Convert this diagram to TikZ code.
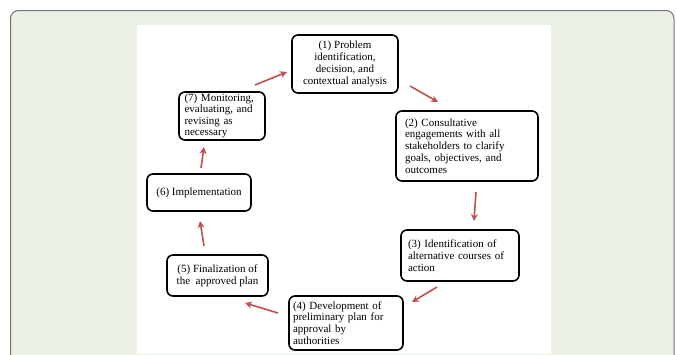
\documentclass[tikz,border=0pt]{standalone}
\usepackage{fontspec}
\setmainfont{Liberation Serif}
\usetikzlibrary{arrows.meta}
\definecolor{bgg}{HTML}{EBF1E6}
\definecolor{arr}{HTML}{C0504D}
\tikzset{
  stage/.style={draw=black, line width=1.6pt, rounded corners=6pt, fill=white, inner sep=0pt, font=\fontsize{11}{11.8}\selectfont},
  flow/.style={draw=arr, line width=1.6pt, -{Stealth[length=7pt,width=7pt]}}
}
\begin{document}
\begin{tikzpicture}[x=1pt,y=-1pt]
\useasboundingbox (0,0) rectangle (677,354);
\begin{scope}
\clip (0,0) rectangle (677,354);
\draw[fill=bgg, draw=gray!90!black, line width=1pt, rounded corners=8pt] (10.5,10.5) rectangle (674,380);
\end{scope}
\fill[white] (137,25) rectangle (551,354);
\node[stage, minimum width=106pt, minimum height=58pt, align=center] (n1) at (345,64) {(1) Problem\\identification,\\decision, and\\contextual analysis};
\node[stage, minimum width=142pt, minimum height=70pt, align=left, text width=124pt] (n2) at (467,146) {(2) Consultative\\engagements with all\\stakeholders to clarify\\goals, objectives, and\\outcomes};
\node[stage, minimum width=118pt, minimum height=51pt, align=left, text width=104pt] (n3) at (460,255.5) {(3) Identification of\\alternative courses of\\action};
\node[stage, minimum width=114pt, minimum height=54pt, align=left, text width=106pt] (n4) at (346,323) {(4) Development of\\preliminary plan for\\approval by\\authorities};
\node[stage, minimum width=101pt, minimum height=41pt, align=center] (n5) at (217.5,275.5) {(5) Finalization of\\the~ approved plan};
\node[stage, minimum width=104pt, minimum height=37pt, align=center] (n6) at (199,192.5) {(6) Implementation};
\node[stage, font=\fontsize{11}{11.3}\selectfont, minimum width=86pt, minimum height=48pt, align=left, text width=75pt] (n7) at (222,116) {(7) Monitoring,\\evaluating, and\\revising as\\necessary};
\coordinate (a1s) at (255,85); \coordinate (a1e) at (287,72);
\coordinate (a2s) at (410,86); \coordinate (a2e) at (438,102);
\coordinate (a3s) at (476,192); \coordinate (a3e) at (474,221);
\coordinate (a4s) at (437,287); \coordinate (a4e) at (412,302);
\coordinate (a5s) at (278,313); \coordinate (a5e) at (245,303);
\coordinate (a6s) at (204,246); \coordinate (a6e) at (200,221);
\coordinate (a7s) at (201,168); \coordinate (a7e) at (204,147);
\draw[flow] (a1s) -- (a1e);
\draw[flow] (a2s) -- (a2e);
\draw[flow] (a3s) -- (a3e);
\draw[flow] (a4s) -- (a4e);
\draw[flow] (a5s) -- (a5e);
\draw[flow] (a6s) -- (a6e);
\draw[flow] (a7s) -- (a7e);
\end{tikzpicture}
\end{document}
